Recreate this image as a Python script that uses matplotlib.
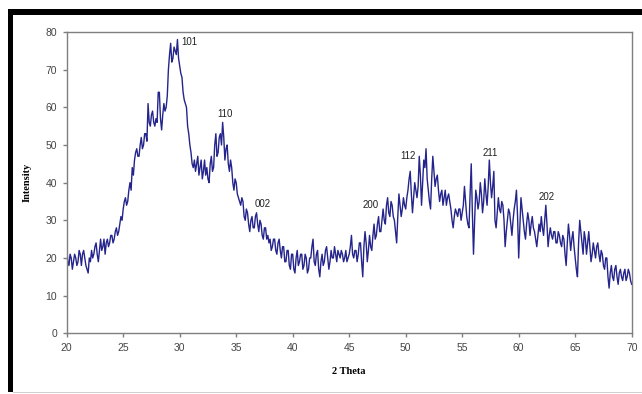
"""XRD pattern: intensity vs 2 theta with indexed reflections."""

import matplotlib
matplotlib.use("Agg")
import matplotlib.pyplot as plt
import numpy as np
from matplotlib.patches import Rectangle

# 2 theta from 20 to 70 deg in 0.1 deg steps, intensities
TWO_THETA_START = 20.0
TWO_THETA_STEP = 0.1
intensity = [
    23, 19, 18, 21, 20, 17, 19, 21, 20, 18,   # 20
    19, 22, 21, 18, 21, 22, 20, 18, 17, 16,   # 21
    20, 19, 22, 20, 21, 23, 24, 21, 19, 22,   # 22
    25, 22, 23, 25, 21, 24, 25, 23, 24, 26,   # 23
    26, 24, 25, 27, 28, 26, 27, 29, 31, 30,   # 24
    33, 35, 36, 34, 35, 38, 40, 38, 44, 42,   # 25
    46, 48, 49, 47, 47, 50, 52, 49, 50, 53,   # 26
    53, 51, 61, 56, 55, 58, 59, 56, 55, 57,   # 27
    56, 64, 64, 57, 54, 58, 61, 59, 60, 63,   # 28
    70, 74, 77, 72, 73, 76, 75, 74, 78, 73,   # 29
    71, 69, 68, 64, 62, 61, 60, 55, 53, 50,   # 30
    48, 45, 44, 46, 43, 45, 47, 42, 44, 46,   # 31
    41, 43, 46, 42, 44, 41, 40, 45, 47, 43,   # 32
    44, 50, 53, 47, 48, 52, 53, 50, 56, 52,   # 33
    46, 49, 50, 45, 43, 46, 44, 40, 38, 41,   # 34
    40, 37, 36, 35, 34, 36, 35, 31, 30, 33,   # 35
    32, 29, 27, 30, 31, 28, 28, 31, 32, 29,   # 36
    27, 30, 29, 26, 25, 28, 28, 25, 26, 24,   # 37
    25, 22, 23, 25, 25, 22, 21, 24, 25, 22,   # 38
    20, 23, 23, 19, 19, 22, 22, 18, 17, 21,   # 39
    21, 17, 16, 20, 22, 18, 19, 21, 21, 17,   # 40
    18, 21, 20, 16, 17, 20, 20, 23, 25, 19,   # 41
    18, 21, 22, 17, 15, 19, 21, 18, 19, 22,   # 42
    23, 20, 17, 19, 22, 20, 20, 23, 21, 19,   # 43
    22, 21, 20, 22, 21, 19, 20, 22, 19, 20,   # 44
    21, 23, 26, 21, 20, 22, 22, 19, 21, 24,   # 45
    24, 19, 15, 23, 27, 24, 19, 22, 26, 23,   # 46
    22, 26, 29, 25, 26, 29, 31, 27, 27, 30,   # 47
    33, 30, 29, 34, 36, 32, 31, 35, 34, 31,   # 48
    30, 27, 24, 31, 37, 34, 31, 33, 36, 34,   # 49
    33, 36, 38, 41, 43, 37, 32, 36, 40, 38,   # 50
    36, 39, 47, 42, 34, 40, 46, 44, 49, 41,   # 51
    38, 35, 33, 41, 47, 43, 39, 41, 42, 38,   # 52
    35, 37, 38, 34, 36, 38, 34, 36, 37, 35,   # 53
    33, 30, 28, 31, 33, 32, 31, 33, 33, 30,   # 54
    32, 34, 39, 35, 31, 29, 28, 37, 45, 32,   # 55
    21, 30, 38, 36, 33, 35, 40, 37, 32, 35,   # 56
    41, 37, 34, 39, 46, 40, 36, 39, 43, 30,   # 57
    28, 32, 36, 33, 32, 35, 34, 30, 23, 27,   # 58
    30, 33, 32, 29, 26, 30, 33, 35, 38, 31,   # 59
    20, 28, 36, 33, 30, 27, 25, 29, 32, 30,   # 60
    26, 29, 31, 28, 27, 25, 23, 26, 29, 27,   # 61
    31, 28, 26, 30, 34, 29, 23, 26, 28, 26,   # 62
    25, 27, 27, 24, 24, 27, 26, 24, 23, 26,   # 63
    25, 21, 18, 24, 29, 26, 22, 25, 27, 23,   # 64
    20, 17, 15, 24, 30, 27, 24, 21, 27, 25,   # 65
    21, 24, 27, 23, 19, 21, 24, 22, 20, 23,   # 66
    24, 21, 19, 22, 21, 18, 17, 20, 20, 15,   # 67
    12, 16, 18, 15, 14, 17, 18, 15, 13, 16,   # 68
    17, 15, 14, 16, 17, 14, 15, 17, 16, 14,   # 69
    13,                                       # 70
]
two_theta = TWO_THETA_START + TWO_THETA_STEP * np.arange(len(intensity))

# reflection labels and where they sit (2 theta, intensity)
peak_labels = ["101", "110", "002", "200", "112", "211", "202"]
peak_x = [30.9, 34.0, 37.3, 46.9, 50.2, 57.5, 62.5]
peak_y = [77.3, 58.2, 34.3, 34.0, 47.1, 48.0, 36.2]

W, H = 642, 394
fig = plt.figure(figsize=(W / 100, H / 100), dpi=100)
fig.patch.set_facecolor("white")

# black frame on top and left, faint line at the bottom
fig.add_artist(Rectangle((8 / W, 1 - 15 / H), 1 - 8 / W, 6 / H,
                         transform=fig.transFigure, color="black", lw=0))
fig.add_artist(Rectangle((8 / W, 2 / H), 5 / W, 1 - 17 / H,
                         transform=fig.transFigure, color="black", lw=0))
fig.add_artist(Rectangle((13 / W, 1.5 / H), 1 - 13 / W, 1 / H,
                         transform=fig.transFigure, color="#d0d0d0", lw=0))

ax = fig.add_axes([66.7 / W, 1 - 333.3 / H, 565 / W, 301.3 / H])
ax.plot(two_theta, intensity, color="#24248c", lw=1.0)

ax.set_xlim(20, 70)
ax.set_ylim(0, 80)
ax.set_xticks(range(20, 71, 5))
ax.set_yticks(range(0, 81, 10))
for sp in ax.spines.values():
    sp.set_color("#7f7f7f")
    sp.set_linewidth(1.0)
ax.tick_params(direction="out", length=3, width=1.0, color="#7f7f7f",
               labelsize=7.5, labelcolor="#444444", pad=4)
for lab in ax.get_xticklabels() + ax.get_yticklabels():
    lab.set_family("Liberation Sans")

for txt, px, py in zip(peak_labels, peak_x, peak_y):
    ax.text(px, py, txt, fontsize=7, family="Liberation Sans",
            color="#222222", ha="center", va="center")

ax.set_xlabel("2 Theta", family="Liberation Serif", fontweight="bold",
              fontsize=7.5, labelpad=10)
ax.set_ylabel("Intensity", family="Liberation Serif", fontweight="bold",
              fontsize=7.5, labelpad=10)

fig.savefig("out.png", dpi=100)
plt.close(fig)
